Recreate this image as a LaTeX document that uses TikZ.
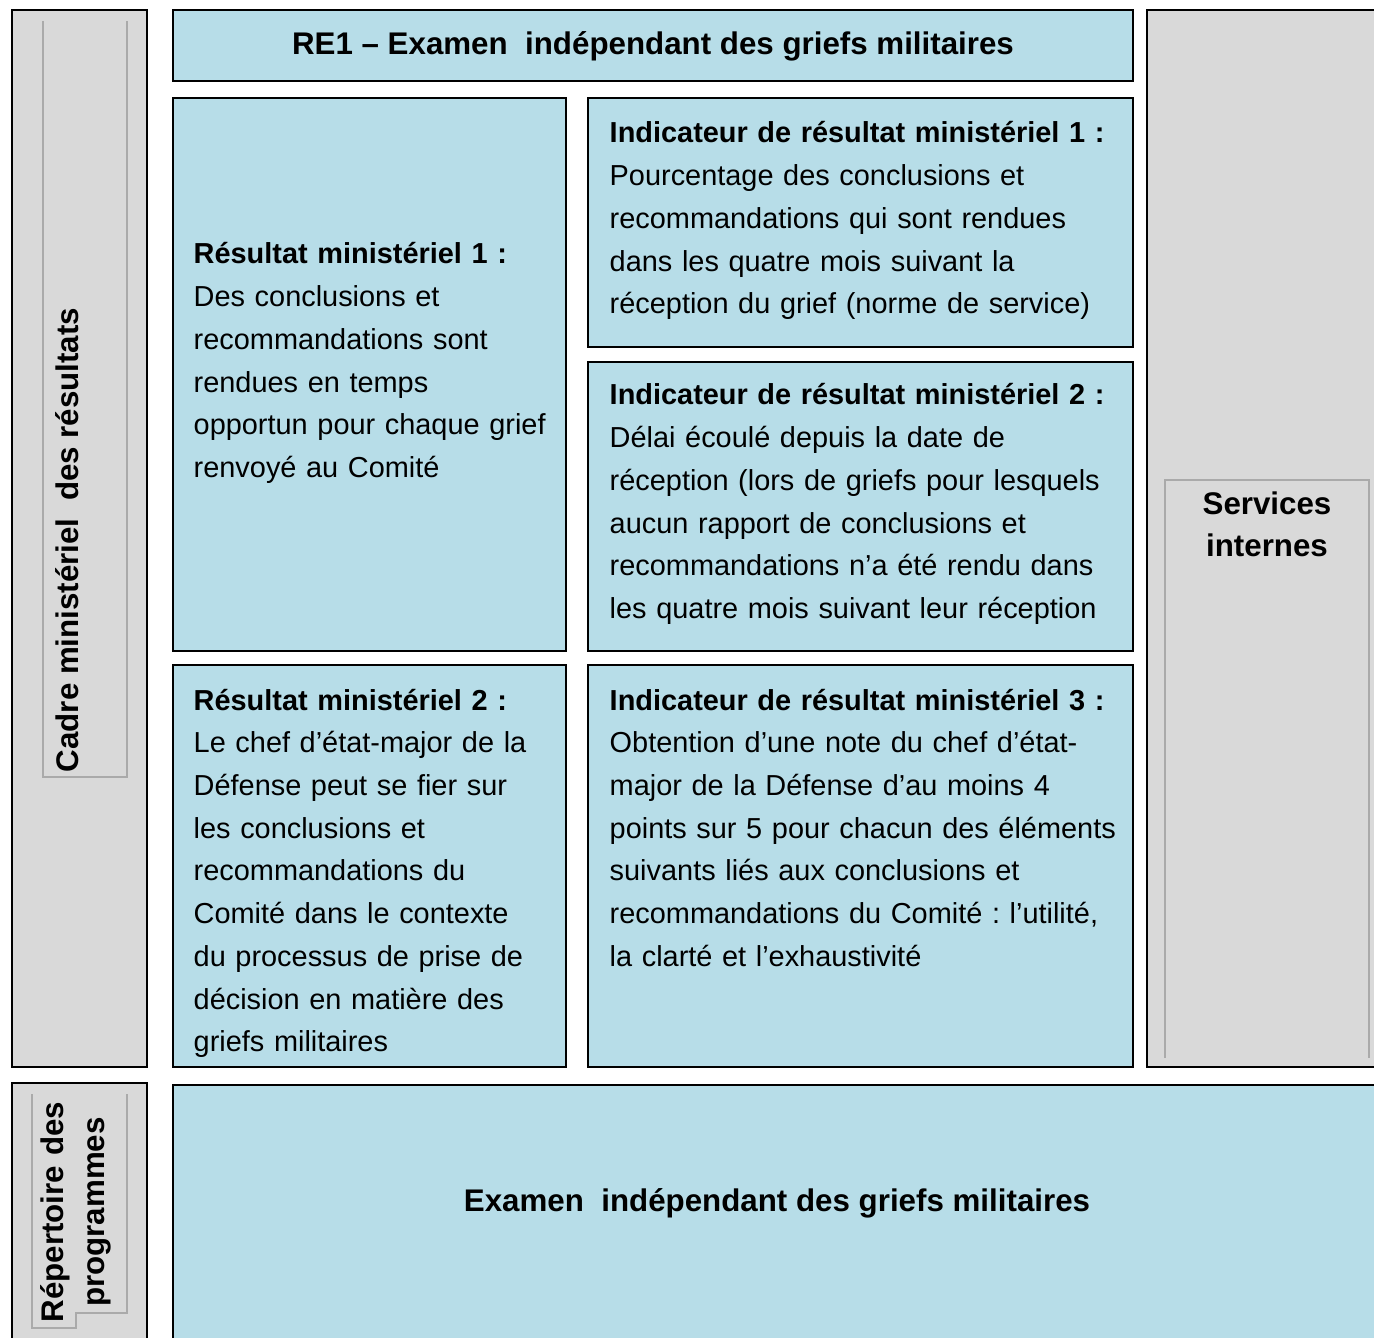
\documentclass[tikz,border=0pt]{standalone}
\usepackage{fontspec}
\setmainfont{Liberation Sans}
\usetikzlibrary{positioning}
\definecolor{paleblue}{RGB}{183,221,232}
\definecolor{panelgrey}{RGB}{217,217,217}
\definecolor{framegrey}{RGB}{170,170,170}
\frenchspacing

\begin{document}
\begin{tikzpicture}[x=0.01cm, y=-0.01cm,
    bluebox/.style={draw=black, line width=0.6pt, fill=paleblue},
    greybox/.style={draw=black, line width=0.6pt, fill=panelgrey},
    frameline/.style={draw=framegrey, line width=0.5pt},
    boxtext/.style={anchor=base west, inner sep=0pt, text width=5.4cm, align=left,
        font=\fontsize{8.22}{12.15}\selectfont},
    headtext/.style={anchor=base, inner sep=0pt, font=\fontsize{8.9}{12.2}\selectfont\bfseries}]
    \useasboundingbox (0,0) rectangle (1374,1337);

    % grey side panels
    \draw[greybox] (12,10) rectangle (147,1067);
    \draw[greybox] (1147,10) rectangle (1390,1067);
    \draw[greybox] (12,1083) rectangle (147,1350);
    \draw[frameline] (43,21) -- (43,777) -- (127,777) -- (127,21);
    \draw[frameline] (1165,1058) -- (1165,480) -- (1369,480) -- (1369,1058);
    \draw[frameline] (32,1094) -- (32,1328) -- (76,1328) -- (76,1313) -- (127,1313) -- (127,1094);

    % blue boxes
    \draw[bluebox] (173,10) rectangle (1133,81);
    \draw[bluebox] (173,98) rectangle (566,651);
    \draw[bluebox] (588,98) rectangle (1133,347);
    \draw[bluebox] (588,362) rectangle (1133,651);
    \draw[bluebox] (173,665) rectangle (566,1067);
    \draw[bluebox] (588,665) rectangle (1133,1067);
    \draw[bluebox] (173,1085) rectangle (1390,1350);

    \node[headtext] (title) at (653,55) {RE1 -- Examen\ \ indépendant des griefs militaires};

    \node[boxtext] (result1) at (193,264) {\textbf{Résultat ministériel 1 :}\\
        Des conclusions et\\
        recommandations sont\\
        rendues en temps\\
        opportun pour chaque grief\\
        renvoyé au Comité};

    \node[boxtext] (indic1) at (609,143) {\textbf{Indicateur de résultat ministériel 1 :}\\
        Pourcentage des conclusions et\\
        recommandations qui sont rendues\\
        dans les quatre mois suivant la\\
        réception du grief (norme de service)};

    \node[boxtext] (indic2) at (609,405) {\textbf{Indicateur de résultat ministériel 2 :}\\
        Délai écoulé depuis la date de\\
        réception (lors de griefs pour lesquels\\
        aucun rapport de conclusions et\\
        recommandations n’a été rendu dans\\
        les quatre mois suivant leur réception};

    \node[boxtext] (result2) at (193,710) {\textbf{Résultat ministériel 2 :}\\
        Le chef d’état-major de la\\
        Défense peut se fier sur\\
        les conclusions et\\
        recommandations du\\
        Comité dans le contexte\\
        du processus de prise de\\
        décision en matière des\\
        griefs militaires};

    \node[boxtext] (indic3) at (609,710) {\textbf{Indicateur de résultat ministériel 3 :}\\
        Obtention d’une note du chef d’état-\\
        major de la Défense d’au moins 4\\
        points sur 5 pour chacun des éléments\\
        suivants liés aux conclusions et\\
        recommandations du Comité : l’utilité,\\
        la clarté et l’exhaustivité};

    \node[headtext, rotate=90] (cadre) at (78,540) {Cadre ministériel\ \ des résultats};
    \node[headtext, rotate=90, text width=3cm, align=center,
        font=\fontsize{8.9}{11.4}\selectfont\bfseries] (repertoire) at (64,1212) {Répertoire des\\programmes};
    \node[headtext, text width=3cm, align=center] (services) at (1267,514) {Services\\internes};
    \node[headtext] (program) at (777,1211) {Examen\ \ indépendant des griefs militaires};
\end{tikzpicture}
\end{document}
